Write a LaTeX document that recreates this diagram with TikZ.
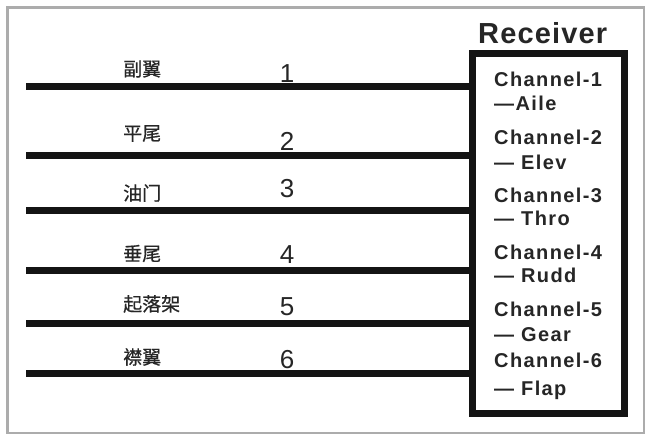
\documentclass[tikz,border=0pt]{standalone}
\usepackage{fontspec}
\setmainfont{Liberation Sans}
\newfontfamily\cjk[FakeBold=0.6]{Noto Sans CJK SC}
\newfontfamily\chfont[LetterSpace=7]{Liberation Sans}
\newfontfamily\ttlfont[LetterSpace=4]{Liberation Sans}
\tikzset{
  wire/.style={line width=7pt, black!92},
  cnlabel/.style={font=\cjk\fontsize{19}{19}\selectfont, anchor=west, inner sep=0pt, text=black!85},
  numlabel/.style={font=\fontsize{26}{26}\selectfont, anchor=base, inner sep=0pt, text=black!85},
  chlabel/.style={font=\chfont\bfseries\fontsize{20}{20}\selectfont, anchor=base west, inner sep=0pt, text=black!85},
  rxbox/.style={draw=black!92, line width=7pt, fill=white, minimum width=151.5pt, minimum height=359.5pt, inner sep=0pt, outer sep=0pt, anchor=north west}
}
\begin{document}
\begin{tikzpicture}[x=1pt,y=-1pt]
\useasboundingbox (0,0) rectangle (651,437);
\fill[white] (0,0) rectangle (651,437);
\draw[gray!65, line width=2.5pt] (7.5,7.5) rectangle (644,433);
% receiver box
\node[rxbox] (rx) at (472.5,53.5) {};
\node[font=\ttlfont\bfseries\fontsize{29}{29}\selectfont, anchor=base west, inner sep=0pt, text=black!85] (title) at (478,43.3) {Receiver};
% wires
\coordinate (l1) at (26,86.5);
\coordinate (l2) at (26,155.5);
\coordinate (l3) at (26,210);
\coordinate (l4) at (26,270);
\coordinate (l5) at (26,323);
\coordinate (l6) at (26,373);
\foreach \i in {1,...,6} {\draw[wire] (l\i) -- (l\i -| rx.west);}
% chinese labels
\node[cnlabel] (c1) at (123,69) {副翼};
\node[cnlabel] (c2) at (123,133.5) {平尾};
\node[cnlabel] (c3) at (123,193) {油门};
\node[cnlabel] (c4) at (123,253.5) {垂尾};
\node[cnlabel] (c5) at (123,304) {起落架};
\node[cnlabel] (c6) at (123,357) {襟翼};
% numbers
\node[numlabel] (n1) at (287,82) {1};
\node[numlabel] (n2) at (287,150) {2};
\node[numlabel] (n3) at (287,197) {3};
\node[numlabel] (n4) at (287,263) {4};
\node[numlabel] (n5) at (287,315) {5};
\node[numlabel] (n6) at (287,368) {6};
% channel labels
\node[chlabel] (h1) at (494,86) {Channel-1};
\node[chlabel] (f1) at (494,110) {—Aile};
\node[chlabel] (h2) at (494,144) {Channel-2};
\node[chlabel] (f2) at (494,169) {— Elev};
\node[chlabel] (h3) at (494,202) {Channel-3};
\node[chlabel] (f3) at (494,225) {— Thro};
\node[chlabel] (h4) at (494,259) {Channel-4};
\node[chlabel] (f4) at (494,282) {— Rudd};
\node[chlabel] (h5) at (494,316) {Channel-5};
\node[chlabel] (f5) at (494,341) {— Gear};
\node[chlabel] (h6) at (494,367) {Channel-6};
\node[chlabel] (f6) at (494,395) {— Flap};
\end{tikzpicture}
\end{document}
